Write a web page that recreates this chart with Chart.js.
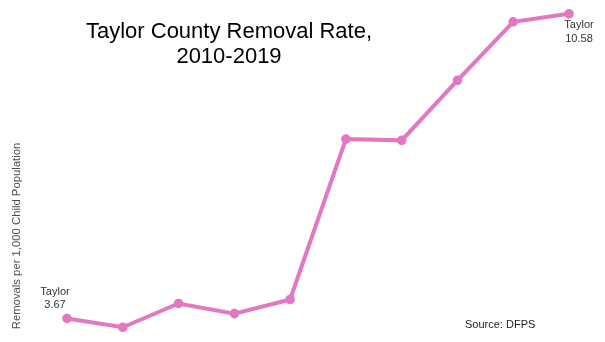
<!DOCTYPE html>
<html>
<head>
<meta charset="utf-8">
<script src="https://cdn.jsdelivr.net/npm/chart.js@4"></script>
<style>
  body { margin: 0; background: #fff; }
  #wrap { width: 605px; height: 342px; }
</style>
</head>
<body>
<div id="wrap"><canvas id="rate-chart"></canvas></div>
<script>
// chart data
const years = ['2010', '2011', '2012', '2013', '2014', '2015', '2016', '2017', '2018', '2019'];
const taylor_rate = [3.67, 3.47, 4.01, 3.78, 4.10, 7.74, 7.71, 9.07, 10.40, 10.58];
const county_name = 'Taylor';
const title_lines = ['Taylor County Removal Rate,', '2010-2019'];
const y_label = 'Removals per 1,000 Child Population';
const source_note = 'Source: DFPS';

const FONT = '"Liberation Sans", Arial, sans-serif';

// draws title, axis label, end labels and source note
const text_plugin = {
    id: 'textPlugin',
    afterDraw(chart) {
        const ctx = chart.ctx;
        const xs = chart.scales.x;
        const ys = chart.scales.y;
        ctx.save();

        // title
        ctx.fillStyle = '#000';
        ctx.font = '22px ' + FONT;
        ctx.textAlign = 'center';
        ctx.textBaseline = 'alphabetic';
        ctx.fillText(title_lines[0], 229, 38);
        ctx.fillText(title_lines[1], 229, 63);

        // y axis label
        ctx.save();
        ctx.translate(17, 236);
        ctx.rotate(-Math.PI / 2);
        ctx.fillStyle = '#4d4d4d';
        ctx.font = '11.3px ' + FONT;
        ctx.textBaseline = 'middle';
        ctx.fillText(y_label, 0, 0);
        ctx.restore();

        // first and last point labels
        ctx.fillStyle = '#333';
        ctx.font = '11px ' + FONT;
        ctx.textAlign = 'center';
        ctx.textBaseline = 'middle';
        let last = taylor_rate.length - 1;
        let x0 = xs.getPixelForValue(0), y0 = ys.getPixelForValue(taylor_rate[0]);
        ctx.fillText(county_name, x0 - 12, y0 - 26);
        ctx.fillText(taylor_rate[0].toFixed(2), x0 - 12, y0 - 13);
        let x1 = xs.getPixelForValue(last), y1 = ys.getPixelForValue(taylor_rate[last]);
        ctx.fillText(county_name, x1 + 10, y1 + 11);
        ctx.fillText(taylor_rate[last].toFixed(2), x1 + 10, y1 + 25);

        // source
        ctx.textAlign = 'left';
        ctx.fillStyle = '#222';
        ctx.fillText(source_note, 465, 325);
        ctx.restore();
    }
};

let rate_chart = new Chart(document.getElementById('rate-chart').getContext('2d'), {
    type: 'line',
    data: {
        labels: years,
        datasets: [{
            label: county_name,
            data: taylor_rate,
            borderColor: '#e377c2',
            backgroundColor: '#e377c2',
            borderWidth: 4,
            pointRadius: 2.8,
            pointHoverRadius: 2.8,
            tension: 0,
            clip: false
        }]
    },
    options: {
        responsive: true,
        maintainAspectRatio: false,
        animation: false,
        layout: { padding: { left: 67, right: 36, top: 9, bottom: 5 } },
        plugins: {
            legend: { display: false },
            title: { display: false },
            tooltip: { enabled: false }
        },
        scales: {
            x: { display: false, offset: false },
            y: { display: false, min: 3.29, max: 10.69 }
        }
    },
    plugins: [text_plugin]
});
</script>
</body>
</html>
